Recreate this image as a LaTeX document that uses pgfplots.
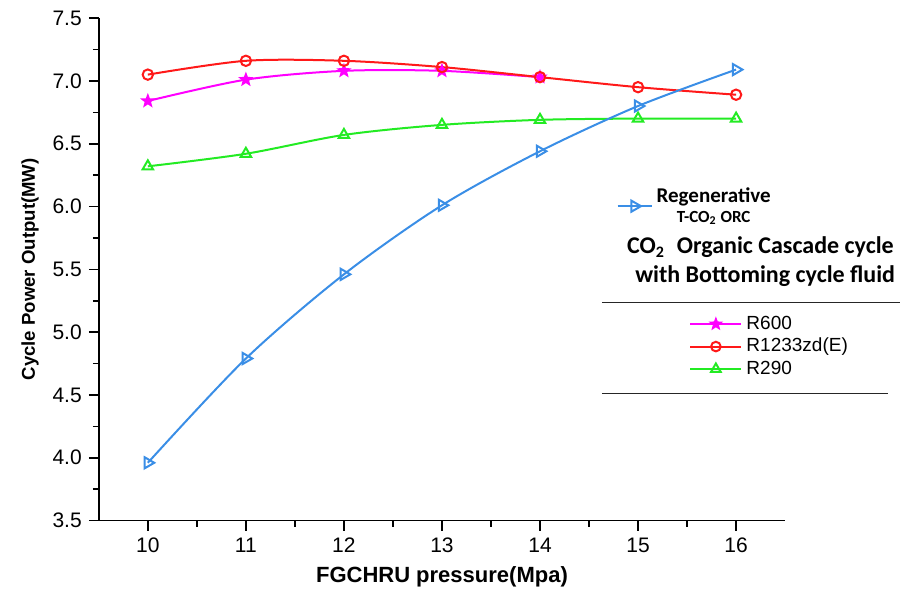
\documentclass[border=0pt]{standalone}
\usepackage{pgfplots}
\pgfplotsset{compat=1.18}
\usepackage{fontspec}
\setmainfont{Liberation Sans}
\newfontfamily\calibri{Carlito}

\definecolor{cblue}{RGB}{58,142,230}
\definecolor{cred}{RGB}{255,25,25}
\definecolor{cmag}{RGB}{255,0,255}
\definecolor{cgreen}{RGB}{35,235,35}

% filled five-pointed star
\pgfdeclareplotmark{fstar}{%
  \pgfpathmoveto{\pgfpointpolar{90}{\pgfplotmarksize}}%
  \pgfpathlineto{\pgfpointpolar{126}{0.42\pgfplotmarksize}}%
  \pgfpathlineto{\pgfpointpolar{162}{\pgfplotmarksize}}%
  \pgfpathlineto{\pgfpointpolar{198}{0.42\pgfplotmarksize}}%
  \pgfpathlineto{\pgfpointpolar{234}{\pgfplotmarksize}}%
  \pgfpathlineto{\pgfpointpolar{270}{0.42\pgfplotmarksize}}%
  \pgfpathlineto{\pgfpointpolar{306}{\pgfplotmarksize}}%
  \pgfpathlineto{\pgfpointpolar{342}{0.42\pgfplotmarksize}}%
  \pgfpathlineto{\pgfpointpolar{18}{\pgfplotmarksize}}%
  \pgfpathlineto{\pgfpointpolar{54}{0.42\pgfplotmarksize}}%
  \pgfpathclose
  \pgfusepathqfillstroke}

\begin{document}
\begin{tikzpicture}
\begin{axis}[
    scale only axis,
    width=12.06cm, height=8.83cm,
    xmin=9.5, xmax=16.5, ymin=3.5, ymax=7.5,
    axis x line*=bottom, axis y line*=left,
    axis line style={-, line width=0.8pt},
    xtick={10,11,12,13,14,15,16},
    ytick distance=0.5,
    minor x tick num=1, minor y tick num=1,
    tick align=outside,
    tick style={black, line width=0.8pt},
    major tick length=5pt, minor tick length=3pt,
    yticklabel style={/pgf/number format/.cd, fixed, fixed zerofill, precision=1},
    /pgf/number format/assume math mode=true,
    ticklabel style={font=\fontsize{10.5}{12}\selectfont},
    xlabel={FGCHRU pressure(Mpa)},
    ylabel={Cycle Power Output(MW)},
    xlabel style={font=\fontsize{11}{12}\selectfont\bfseries},
    ylabel style={font=\fontsize{9.3}{11}\selectfont\bfseries},
    clip=false,
    every axis plot/.append style={line width=1pt, smooth},
    legend style={at={(rel axis cs:0.745,0.68)}, anchor=north west,
        draw=none, fill=none, cells={align=center},
        font=\calibri\bfseries\fontsize{10.5}{11}\selectfont},
]
\addplot[cgreen, mark=triangle, mark size=3pt, mark options={fill=white, solid}, forget plot]
  coordinates {(10,6.32) (11,6.42) (12,6.57) (13,6.65) (14,6.69) (15,6.70) (16,6.70)};
\addplot[cmag, mark=fstar, mark size=2.6pt, mark options={fill=cmag}, forget plot]
  coordinates {(10,6.84) (11,7.01) (12,7.08) (13,7.08) (14,7.03)};
\addplot[cred, mark=o, mark size=2.6pt, mark options={fill=white}, forget plot]
  coordinates {(10,7.05) (11,7.16) (12,7.16) (13,7.11) (14,7.03) (15,6.95) (16,6.89)};
\addplot[cblue, mark=triangle, mark size=3.2pt, mark options={fill=white, rotate=-90}]
  coordinates {(10,3.96) (11,4.79) (12,5.46) (13,6.01) (14,6.44) (15,6.80) (16,7.09)};
\addlegendentry{Regenerative\\[-1pt]{\fontsize{8.5}{9}\selectfont T-CO\textsubscript{2} ORC}}

\node[font=\calibri\bfseries\fontsize{12}{13}\selectfont] at (rel axis cs:0.964,0.544)
  {CO\textsubscript{2}\enspace Organic Cascade cycle};
\node[font=\calibri\bfseries\fontsize{12}{13}\selectfont] at (rel axis cs:0.971,0.486)
  {with Bottoming cycle fluid};
\draw[line width=0.9pt, black!85] (rel axis cs:0.733,0.434) -- (rel axis cs:1.168,0.434);
\draw[line width=0.9pt, black!85] (rel axis cs:0.733,0.253) -- (rel axis cs:1.150,0.253);
\path (rel axis cs:-0.144,1.036) (rel axis cs:1.182,-0.169);
\end{axis}

\begin{axis}[
    scale only axis,
    width=12.06cm, height=8.83cm,
    hide axis,
    xmin=0, xmax=1, ymin=0, ymax=1,
    legend image code/.code={%
      \draw[mark repeat=2, mark phase=2] plot coordinates {(0cm,0cm) (0.45cm,0cm) (0.9cm,0cm)};},
    legend style={at={(rel axis cs:0.851,0.424)}, anchor=north west,
        draw=none, fill=none, row sep=-1pt,
        font=\fontsize{9.5}{10}\selectfont},
    legend cell align=left,
]
\addlegendimage{cmag, line width=1pt, mark=fstar, mark size=2.4pt, mark options={fill=cmag}}
\addlegendentry{R600}
\addlegendimage{cred, line width=1pt, mark=o, mark size=2.4pt, mark options={fill=white}}
\addlegendentry{R1233zd(E)}
\addlegendimage{cgreen, line width=1pt, mark=triangle, mark size=2.8pt, mark options={fill=white}}
\addlegendentry{R290}
\end{axis}
\end{tikzpicture}
\end{document}
